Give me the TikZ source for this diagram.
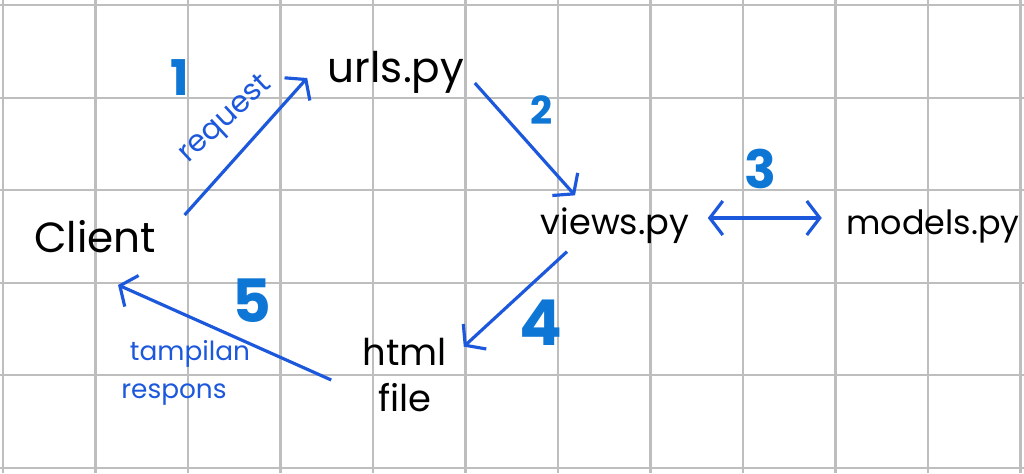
\documentclass[tikz,border=0pt]{standalone}
\usepackage{fontspec}
\setmainfont{Poppins}
\usepackage{xcolor}
\usetikzlibrary{arrows.meta}
\definecolor{penblue}{RGB}{28,88,220}
\definecolor{numblue}{RGB}{14,118,212}
\definecolor{gridgray}{RGB}{190,190,190}

\begin{document}
\begin{tikzpicture}[x=1cm,y=1cm,
  file/.style={inner sep=0pt, font=\fontsize{12}{14}\selectfont},
  flow/.style={penblue, line width=0.9pt, -{Straight Barb[length=1.3mm,width=3.4mm]}},
  num/.style={numblue, inner sep=0pt, font=\bfseries},
  note/.style={penblue, inner sep=0pt}]
\useasboundingbox (0,0) rectangle (10.24,4.73);
\fill[white] (0,0) rectangle (10.24,4.73);
\foreach \i in {0,...,11} { \draw[gridgray, line width=0.6pt] ({0.03+0.925*\i},0) -- ++(0,4.73); }
\foreach \j in {0,...,5} { \draw[gridgray, line width=0.6pt] (0,{4.68-0.926*\j}) -- ++(10.24,0); }
\node[file] (client) at (0.95,2.36) {Client};
\node[file] (urls) at (3.96,4.01) {urls.py};
\node[file, font=\fontsize{10}{12}\selectfont] (views) at (6.15,2.47) {views.py};
\node[file, font=\fontsize{9.5}{11}\selectfont] (models) at (9.33,2.47) {models.py};
\node[file, align=center, font=\fontsize{10.5}{13}\selectfont] (html) at (4.05,0.98) {html\\file};
\draw[flow] ([shift={(0.28,0.22)}]client.east) -- ([shift={(-0.20,-0.06)}]urls.west);
\draw[flow] ([shift={(0.10,-0.11)}]urls.east) -- ([shift={(-0.40,0.12)}]views.north);
\draw[flow, {Straight Barb[length=1.3mm,width=3.4mm]}-{Straight Barb[length=1.3mm,width=3.4mm]}] ([shift={(0.18,0.08)}]views.east) -- ([shift={(-0.24,0.08)}]models.west);
\draw[flow] ([shift={(-0.48,-0.07)}]views.south) -- ([shift={(0.16,-0.09)}]html.north east);
\draw[flow] ([shift={(-0.31,-0.05)}]html.west) -- ([shift={(0.23,-0.31)}]client.south);
\node[note, rotate=43, font=\fontsize{8.5}{10}\selectfont] (request) at (2.26,3.53) {request};
\node[note, font=\fontsize{7.5}{9}\selectfont] (tampilan) at (1.90,1.19) {tampilan};
\node[note, font=\fontsize{7.5}{9}\selectfont] (respons) at (1.74,0.78) {respons};
\node[num, font=\bfseries\fontsize{14}{16}\selectfont] (one) at (1.80,3.95) {1};
\node[num, font=\bfseries\fontsize{11}{13}\selectfont] (two) at (5.42,3.63) {2};
\node[num, font=\bfseries\fontsize{15}{17}\selectfont] (three) at (7.60,3.04) {3};
\node[num, font=\bfseries\fontsize{18}{20}\selectfont] (four) at (5.41,1.50) {4};
\node[num, font=\bfseries\fontsize{17}{19}\selectfont] (five) at (2.52,1.72) {5};
\end{tikzpicture}
\end{document}
